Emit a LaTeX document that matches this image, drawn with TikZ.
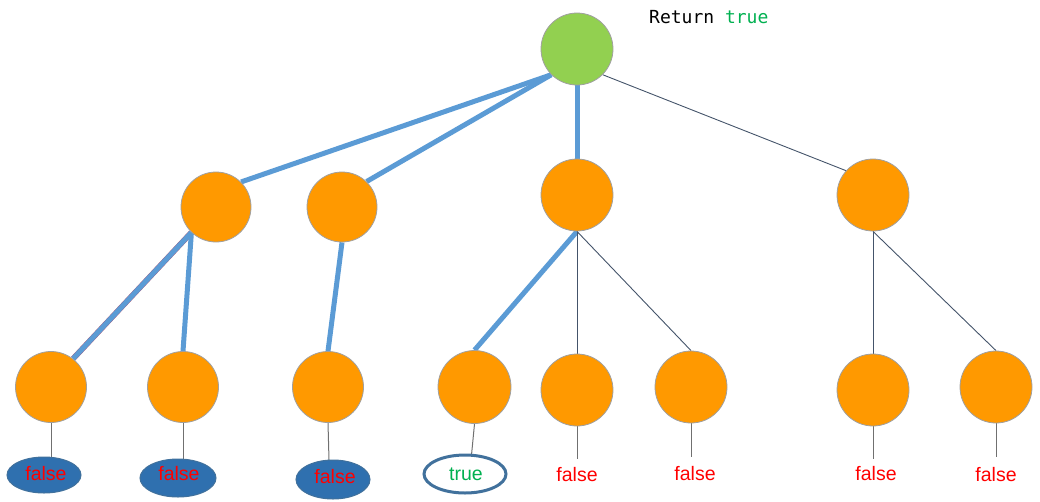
\documentclass[tikz,border=0pt]{standalone}
\usepackage{fontspec}
\setmainfont{Liberation Sans}
\newfontfamily\monofnt{DejaVu Sans Mono}
\usetikzlibrary{shapes.geometric,backgrounds}
\definecolor{orng}{HTML}{FF9900}
\definecolor{grn}{HTML}{92D050}
\definecolor{circborder}{HTML}{A0A0A0}
\definecolor{thickblue}{HTML}{5B9BD5}
\definecolor{thinslate}{HTML}{44546A}
\definecolor{stemgray}{HTML}{707070}
\definecolor{ellfill}{HTML}{2F70AF}
\definecolor{ellborder}{HTML}{41719C}
\definecolor{redtxt}{HTML}{FF0000}
\definecolor{greentxt}{HTML}{00B050}
\tikzset{
  treenode/.style={circle, draw=circborder, line width=0.8pt, fill=orng, minimum size=#1, inner sep=0pt},
  treenode/.default=71pt,
  rootnode/.style={treenode=72pt, fill=grn},
  hot/.style={draw=thickblue, line width=5pt},
  thin/.style={draw=thinslate, line width=0.9pt},
  stem/.style={draw=stemgray, line width=1pt},
  falsetxt/.style={text=redtxt, font=\fontsize{19.5}{21}\selectfont, inner sep=0pt},
  truetxt/.style={text=greentxt, font=\fontsize{19.5}{21}\selectfont, inner sep=0pt},
  filledell/.style={ellipse, fill=ellfill, draw=ellborder, line width=1pt, inner sep=0pt},
  outlineell/.style={ellipse, draw=ellborder, line width=3pt, fill=white, inner sep=0pt}
}
\begin{document}
\begin{tikzpicture}[x=1pt,y=-1pt]
\useasboundingbox (0,0) rectangle (1040,501);
% nodes
\node[rootnode] (root) at (577,49) {};
\node[treenode=70pt] (A) at (216,207) {};
\node[treenode=70pt] (B) at (342,207) {};
\node[treenode=72pt] (C) at (577,195) {};
\node[treenode=72pt] (D) at (873,195) {};
\node[treenode] (l1) at (51,387) {};
\node[treenode] (l2) at (183,387) {};
\node[treenode] (l3) at (328,387) {};
\node[treenode=73pt] (l4) at (474.5,387) {};
\node[treenode=72pt] (l5) at (577,390) {};
\node[treenode=72pt] (l6) at (691,387) {};
\node[treenode=72pt] (l7) at (873,390) {};
\node[treenode=72pt] (l8) at (996,387) {};
% labels
\node[filledell, minimum width=74pt, minimum height=36pt] (e1) at (44,475) {};
\node[falsetxt] (t1) at (46,474) {false};
\node[filledell, minimum width=76pt, minimum height=38pt] (e2) at (178,478) {};
\node[falsetxt] (t2) at (179,474) {false};
\node[filledell, minimum width=74pt, minimum height=39pt] (e3) at (333,479.5) {};
\node[falsetxt] (t3) at (335,477) {false};
\node[outlineell, minimum width=82pt, minimum height=38pt] (e4) at (465,474) {};
\node[truetxt] (t4) at (466,474) {true};
\node[falsetxt] (t5) at (577,475) {false};
\node[falsetxt] (t6) at (695,474) {false};
\node[falsetxt] (t7) at (876,474) {false};
\node[falsetxt] (t8) at (996,475) {false};
\node[anchor=west, inner sep=0pt, font=\monofnt\fontsize{18}{20}\selectfont] (ret) at (649,17) {Return \textcolor{greentxt}{true}};
% edges
\coordinate (s1) at (51,457);
\coordinate (s2) at (183,459);
\coordinate (s3) at (329,460);
\coordinate (s4) at (471.5,455);
\coordinate (s5) at (577,459);
\coordinate (s6) at (691,457);
\coordinate (s7) at (873,459);
\coordinate (s8) at (996,457);
\begin{pgfonlayer}{background}
\draw[hot] (root.225) -- (A.45);
\draw[hot] (root.225) -- (B.46);
\draw[hot] (root.south) -- (C.north);
\draw[thin] (root.-45) -- (D.138);
\draw[draw=red!45!thickblue, line width=5.6pt] (A.226) -- (l1.52);
\draw[hot] (A.226) -- (l1.52);
\draw[hot] (A.226) -- (l2.north);
\draw[hot] (B.south) -- (l3.north);
\draw[hot] (C.south) -- (l4.north);
\draw[thin] (C.south) -- (l5.north);
\draw[thin] (C.south) -- (l6.north);
\draw[thin] (D.south) -- (l7.north);
\draw[thin] (D.south) -- (l8.north);
\draw[stem] (l1.south) -- (s1);
\draw[stem] (l2.south) -- (s2);
\draw[stem] (l3.south) -- (s3);
\draw[stem] (l4.south) -- (s4);
\draw[stem] (l5.south) -- (s5);
\draw[stem] (l6.south) -- (s6);
\draw[stem] (l7.south) -- (s7);
\draw[stem] (l8.south) -- (s8);
\end{pgfonlayer}
\end{tikzpicture}
\end{document}
